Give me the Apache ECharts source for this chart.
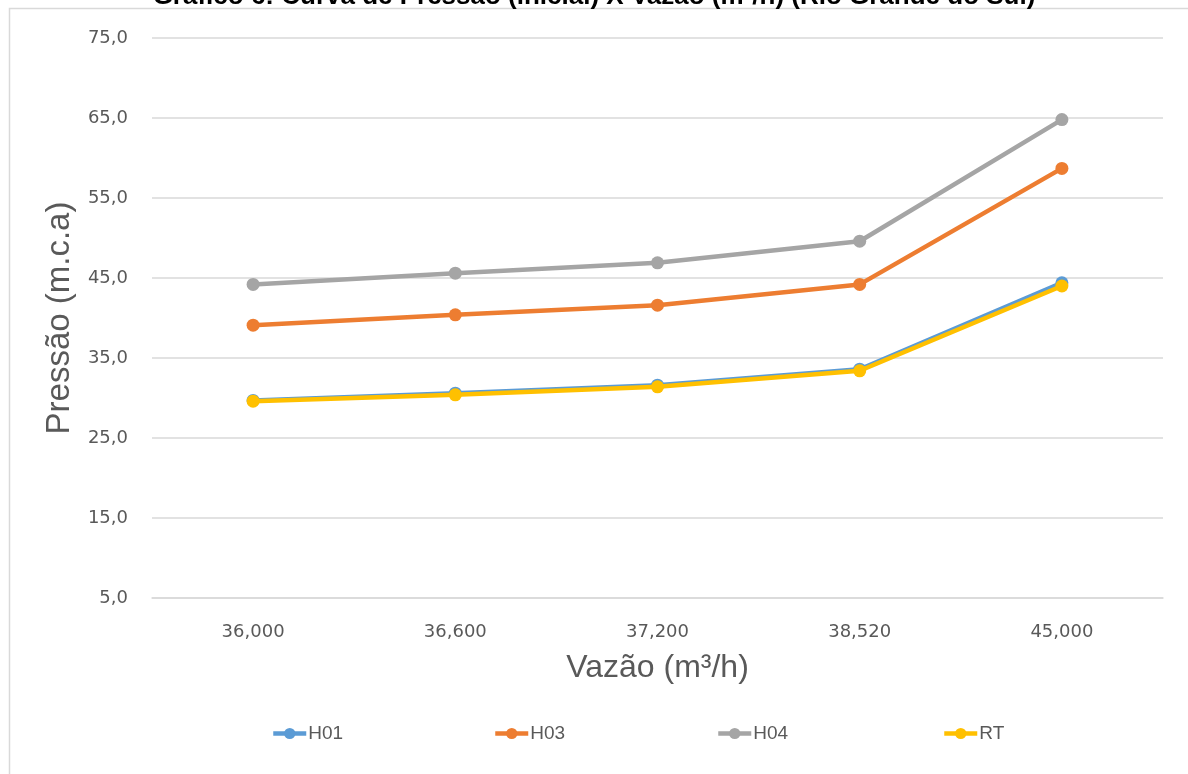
<!DOCTYPE html>
<html>
<head>
<meta charset="utf-8">
<script src="https://cdn.jsdelivr.net/npm/echarts@6/dist/echarts.min.js"></script>
<style>
html,body{margin:0;padding:0;background:#fff;}
#chart{width:1188px;height:774px;}
</style>
</head>
<body>
<div id="chart"></div>
<script>
const categories = ['36,000', '36,600', '37,200', '38,520', '45,000'];
const H01 = [29.7, 30.6, 31.6, 33.6, 44.4];
const H03 = [39.1, 40.4, 41.6, 44.2, 58.7];
const H04 = [44.2, 45.6, 46.9, 49.6, 64.8];
const RT  = [29.6, 30.4, 31.4, 33.4, 44.0];
const seriesNames = ['H01', 'H03', 'H04', 'RT'];
const seriesData = [H01, H03, H04, RT];
const colors = ['#5B9BD5', '#ED7D31', '#A5A5A5', '#FFC000'];
const titleText = 'Gráfico 6: Curva de Pressão (inicial) X Vazão (m³/h) (Rio Grande do Sul)';
const yAxisName = 'Pressão (m.c.a)';
const xAxisName = 'Vazão (m³/h)';

const legendLefts = [274, 496, 719, 945];

const chart = echarts.init(document.getElementById('chart'), null, {renderer: 'canvas'});
chart.setOption({
  backgroundColor: '#fff',
  animation: false,
  graphic: [{
    type: 'rect', left: 7, top: 6, z: -1,
    shape: {width: 1300, height: 900},
    style: {fill: 'none', stroke: '#D9D9D9', lineWidth: 1.5}
  }],
  title: {
    text: titleText,
    left: 'center',
    top: -21,
    textStyle: {fontFamily: 'Liberation Sans', fontWeight: 'bold', fontSize: 26, lineHeight: 26, color: '#000'}
  },
  legend: seriesNames.map((n, i) => ({
    data: [n],
    left: legendLefts[i] - 8,
    top: 719,
    itemWidth: 33,
    itemHeight: 14,
    itemGap: 0,
    lineStyle: {width: 4.5},
    textStyle: {fontFamily: 'Liberation Sans', fontSize: 19, color: '#595959', padding: [0, 0, 0, -3]}
  })),
  grid: {left: 152, right: 25, top: 38, bottom: 176, containLabel: false},
  xAxis: {
    type: 'category',
    data: categories,
    boundaryGap: true,
    name: xAxisName,
    nameLocation: 'middle',
    nameGap: 54,
    nameTextStyle: {fontFamily: 'Liberation Sans', fontSize: 32, color: '#595959'},
    axisLine: {show: true, lineStyle: {color: '#D9D9D9', width: 1.5}},
    axisTick: {show: false},
    axisLabel: {fontFamily: 'DejaVu Sans', fontSize: 18, color: '#595959', margin: 25}
  },
  yAxis: {
    type: 'value',
    min: 5, max: 75, interval: 10,
    name: yAxisName,
    nameLocation: 'middle',
    nameGap: 76,
    nameTextStyle: {fontFamily: 'Liberation Sans', fontSize: 33, color: '#595959'},
    axisLine: {show: false},
    axisTick: {show: false},
    splitLine: {lineStyle: {color: '#D9D9D9', width: 1.5}},
    axisLabel: {
      fontFamily: 'DejaVu Sans', fontSize: 18, color: '#595959', margin: 24,
      formatter: v => v.toFixed(1).replace('.', ',')
    }
  },
  series: seriesNames.map((n, i) => ({
    name: n,
    type: 'line',
    data: seriesData[i],
    color: colors[i],
    symbol: 'circle',
    symbolSize: 13,
    lineStyle: {width: 4.5, color: colors[i]},
    itemStyle: {color: colors[i]},
    z: 2 + i
  }))
});
</script>
</body>
</html>
